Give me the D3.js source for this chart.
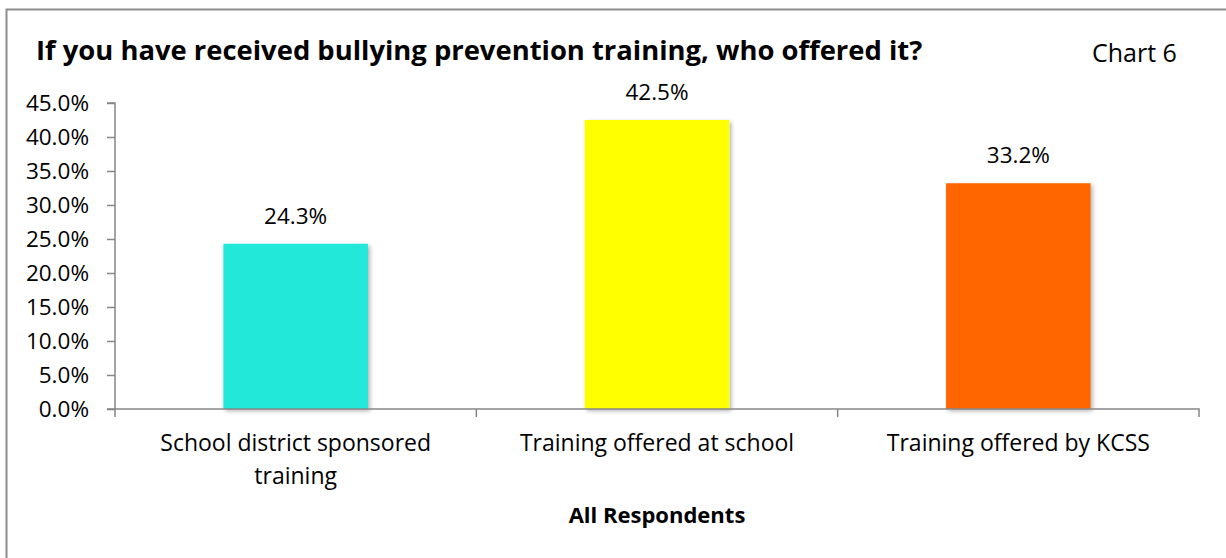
<!DOCTYPE html>
<html>
<head>
<meta charset="utf-8">
<script src="https://cdn.jsdelivr.net/npm/d3@7"></script>
<style>
  body { margin: 0; background: #fff; }
  text { font-family: "Open Sans", "Noto Sans", sans-serif; fill: #000; }
</style>
</head>
<body>
<div id="chart"></div>
<script>
/* chart data */
var categories = ["School district sponsored training", "Training offered at school", "Training offered by KCSS"];
var values = [24.3, 42.5, 33.2];
var colors = ["#20E8DA", "#FFFF00", "#FF6600"];
var yTicks = [0, 5, 10, 15, 20, 25, 30, 35, 40, 45];

var width = 1226,
    height = 558;

var margin = { top: 103, right: 27, bottom: 149, left: 115 },
    plotW = width - margin.left - margin.right,
    plotH = height - margin.top - margin.bottom;

var svg = d3.select("#chart")
    .append("svg")
    .attr("width", width)
    .attr("height", height);

/* drop shadow for bars */
var defs = svg.append("defs");
var filter = defs.append("filter").attr("id", "shadow")
    .attr("x", "-10%").attr("y", "-10%").attr("width", "130%").attr("height", "130%");
filter.append("feDropShadow")
    .attr("dx", 2).attr("dy", 2).attr("stdDeviation", 2)
    .attr("flood-color", "#000").attr("flood-opacity", 0.3);

/* outer frame */
svg.append("rect")
    .attr("x", 6.5).attr("y", 9.5)
    .attr("width", width).attr("height", height)
    .attr("fill", "none")
    .attr("stroke", "#8c8c8c")
    .attr("stroke-width", 2);

/* title */
svg.append("text")
    .attr("x", 36).attr("y", 60)
    .attr("font-size", 27.4)
    .attr("font-weight", "bold")
    .text("If you have received bullying prevention training, who offered it?");

svg.append("text")
    .attr("x", 1092).attr("y", 62)
    .attr("font-size", 25)
    .text("Chart 6");

var g = svg.append("g")
    .attr("transform", "translate(" + margin.left + "," + margin.top + ")");

var x = d3.scaleBand().domain(categories).range([0, plotW]).paddingInner(0).paddingOuter(0);
var y = d3.scaleLinear().domain([0, 45]).range([plotH, 0]);

/* bars */
var barW = x.bandwidth() * 0.4;
g.selectAll(".bar")
    .data(values)
    .enter().append("rect")
    .attr("class", "bar")
    .attr("x", function (d, i) { return x(categories[i]) + (x.bandwidth() - barW) / 2; })
    .attr("y", function (d) { return y(d); })
    .attr("width", barW)
    .attr("height", function (d) { return plotH - y(d); })
    .attr("fill", function (d, i) { return colors[i]; })
    .attr("filter", "url(#shadow)");

/* value labels */
g.selectAll(".val")
    .data(values)
    .enter().append("text")
    .attr("class", "val")
    .attr("x", function (d, i) { return x(categories[i]) + x.bandwidth() / 2; })
    .attr("y", function (d) { return y(d) - 20; })
    .attr("text-anchor", "middle")
    .attr("font-size", 22.5)
    .text(function (d) { return d.toFixed(1) + "%"; });

/* y axis */
var yAxis = d3.axisLeft(y)
    .tickValues(yTicks)
    .tickSize(8)
    .tickPadding(18)
    .tickFormat(function (d) { return d.toFixed(1) + "%"; });

var yg = g.append("g").call(yAxis);
yg.select(".domain").attr("stroke", "#868686").attr("stroke-width", 1.5).attr("d", "M0," + (plotH + 8) + "V0H-8");
yg.selectAll(".tick line").attr("stroke", "#868686").attr("stroke-width", 1.5);
yg.selectAll(".tick text").attr("font-size", 22.5).attr("fill", "#000")
    .style("font-family", "'Open Sans', sans-serif");

/* x axis */
var xAxis = d3.axisBottom(x).tickSize(0).tickFormat("");
var xg = g.append("g").attr("transform", "translate(0," + plotH + ")").call(xAxis);
xg.select(".domain").attr("stroke", "#868686").attr("stroke-width", 1.5).attr("d", "M-8,0H" + plotW + "V8");

/* category boundary ticks */
xg.selectAll(".bound")
    .data(categories.slice(1))
    .enter().append("line")
    .attr("x1", function (d) { return x(d); })
    .attr("x2", function (d) { return x(d); })
    .attr("y1", 0).attr("y2", 8)
    .attr("stroke", "#868686").attr("stroke-width", 1.5);

/* category labels, wrapped like the original */
var catLines = [["School district sponsored", "training"], ["Training offered at school"], ["Training offered by KCSS"]];
g.selectAll(".cat")
    .data(categories)
    .enter().append("text")
    .attr("class", "cat")
    .attr("text-anchor", "middle")
    .attr("font-size", 23)
    .attr("transform", function (d) { return "translate(" + (x(d) + x.bandwidth() / 2) + "," + (plotH + 42) + ")"; })
    .each(function (d, i) {
        var t = d3.select(this);
        catLines[i].forEach(function (line, j) {
            t.append("tspan").attr("x", 0).attr("dy", j === 0 ? 0 : 33).text(line);
        });
    });

/* x axis title */
svg.append("text")
    .attr("x", margin.left + plotW / 2)
    .attr("y", 523)
    .attr("text-anchor", "middle")
    .attr("font-size", 22)
    .attr("font-weight", "bold")
    .text("All Respondents");
</script>
</body>
</html>
